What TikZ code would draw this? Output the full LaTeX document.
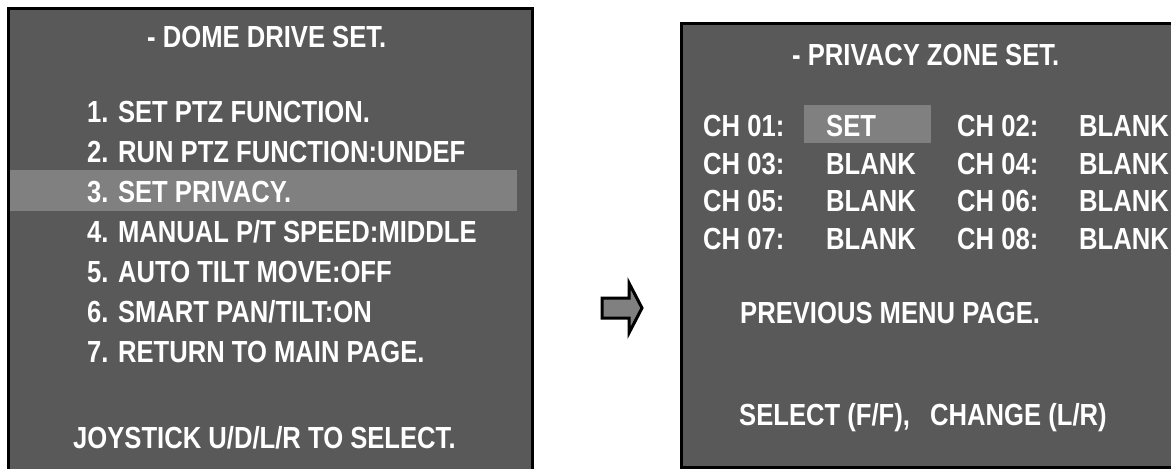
\documentclass[tikz,border=0pt]{standalone}
\usepackage{fontspec}
\setmainfont[FakeStretch=0.84]{Liberation Sans}
\definecolor{screen}{HTML}{595959}
\definecolor{cursor}{HTML}{808080}
\tikzset{
  menutext/.style={text=white, anchor=base west, inner sep=0pt,
    font=\fontsize{30.5}{36}\selectfont\bfseries},
  panel/.style={draw=black, line width=3pt},
}
\begin{document}
\begin{tikzpicture}[x=1pt,y=-1pt]
                \useasboundingbox (0,0) rectangle (1171,469);
                % left screen
                \fill[screen] (8,8) rectangle (532,469);
                \fill[cursor] (8,170) rectangle (517,211);
                \draw[panel] (8,469) -- (8,8) -- (532,8) -- (532,469);
                \node[menutext] (ltitle) at (147,47) {- DOME DRIVE SET.};
                \node[menutext] (l1) at (87,122) {1. SET PTZ FUNCTION.};
                \node[menutext] (l2) at (87,162) {2. RUN PTZ FUNCTION:UNDEF};
                \node[menutext] (l3) at (87,202) {3. SET PRIVACY.};
                \node[menutext] (l4) at (87,242) {4. MANUAL P/T SPEED:MIDDLE};
                \node[menutext] (l5) at (87,282) {5. AUTO TILT MOVE:OFF};
                \node[menutext] (l6) at (87,322) {6. SMART PAN/TILT:ON};
                \node[menutext] (l7) at (87,362) {7. RETURN TO MAIN PAGE.};
                \node[menutext] (lhelp) at (73,448) {JOYSTICK U/D/L/R TO SELECT.};
                % arrow
                \draw[fill=cursor, line width=3pt, line join=miter]
                  (602,298) -- (629,298) -- (629,283) -- (642,308) -- (629,333)
                  -- (629,318) -- (602,318) -- cycle;
                % right screen
                \fill[screen] (681,23) rectangle (1171,467);
                \fill[cursor] (804,105) rectangle (931,143);
                \draw[panel] (1171,23) -- (681,23) -- (681,467) -- (1171,467);
                \node[menutext] (rtitle) at (792,65) {- PRIVACY ZONE SET.};
                \node[menutext] (ch1) at (703,136) {CH 01:};
                \node[menutext] (v1) at (826,136) {SET};
                \node[menutext] (ch2) at (957,136) {CH 02:};
                \node[menutext] (v2) at (1079,136) {BLANK};
                \node[menutext] (ch3) at (703,174) {CH 03:};
                \node[menutext] (v3) at (826,174) {BLANK};
                \node[menutext] (ch4) at (957,174) {CH 04:};
                \node[menutext] (v4) at (1079,174) {BLANK};
                \node[menutext] (ch5) at (703,211) {CH 05:};
                \node[menutext] (v5) at (826,211) {BLANK};
                \node[menutext] (ch6) at (957,211) {CH 06:};
                \node[menutext] (v6) at (1079,211) {BLANK};
                \node[menutext] (ch7) at (703,249) {CH 07:};
                \node[menutext] (v7) at (826,249) {BLANK};
                \node[menutext] (ch8) at (957,249) {CH 08:};
                \node[menutext] (v8) at (1079,249) {BLANK};
                \node[menutext] (prev) at (740,323) {PREVIOUS MENU PAGE.};
                \node[menutext] (sel) at (739,425) {SELECT (F/F),};
                \node[menutext] (chg) at (930,425) {CHANGE (L/R)};
            \end{tikzpicture}
\end{document}
